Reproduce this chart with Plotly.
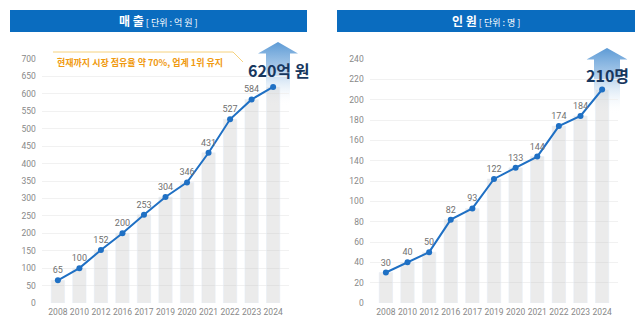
import base64
import plotly.graph_objects as go
from plotly.subplots import make_subplots

# Data
years = ["2008", "2010", "2012", "2016", "2017", "2019", "2020", "2021", "2022", "2023", "2024"]
sales = [65, 100, 152, 200, 253, 304, 346, 431, 527, 584, 620]          # 억 원
staff = [30, 40, 50, 82, 93, 122, 133, 144, 174, 184, 210]              # 명

W, H = 640, 324
BLUE = "#0a6cbf"
LINE = "#1f70c4"
BAR = "rgba(190,190,190,0.3)"   # reads as #ececec on white, lets the arrow show through
KFONT = "Noto Sans CJK KR"


def px(x):
    return x / W


def py(y):
    return 1 - y / H


fig = make_subplots(rows=1, cols=2)

for col, vals in ((1, sales), (2, staff)):
    fig.add_trace(go.Bar(x=years, y=vals, marker_color=BAR, width=0.62,
                         hoverinfo="skip", showlegend=False), row=1, col=col)
    labels = [str(v) for v in vals[:-1]] + [""]
    fig.add_trace(go.Scatter(x=years, y=vals, mode="lines+markers+text",
                             text=labels, textposition="top center",
                             textfont=dict(size=9, color="#707070", family="Roboto"),
                             line=dict(color=LINE, width=2),
                             marker=dict(color=LINE, size=6),
                             cliponaxis=False, showlegend=False), row=1, col=col)

ydom = [py(303), py(59)]
fig.update_layout(
    width=W, height=H, margin=dict(l=0, r=0, t=0, b=0),
    plot_bgcolor="rgba(0,0,0,0)", paper_bgcolor="white", bargap=0.38,
    xaxis=dict(domain=[px(41.75), px(289.25)]),
    xaxis2=dict(domain=[px(369.7), px(618.3)]),
    yaxis=dict(domain=ydom, range=[0, 700], dtick=50),
    yaxis2=dict(domain=ydom, range=[0, 240], dtick=20),
)
fig.update_xaxes(type="category", showgrid=False, zeroline=False, showline=False,
                 automargin=False, ticks="", ticklabelstandoff=2,
                 tickfont=dict(size=8.5, color="#888888", family="Roboto"))
fig.update_yaxes(showgrid=True, gridcolor="#f1f1f1", gridwidth=1, zeroline=False,
                 showline=False, automargin=False, ticks="", ticklabelstandoff=5,
                 tickfont=dict(size=8.5, color="#888888", family="Roboto"))

shapes = []
annotations = []
images = []

# Header bars
for x0, x1, main, unit in ((10, 307, "매 출", "[ 단위 : 억 원 ]"),
                           (337, 635, "인 원", "[ 단위 : 명 ]")):
    shapes.append(dict(type="rect", xref="paper", yref="paper",
                       x0=px(x0), x1=px(x1), y0=py(32), y1=py(10),
                       fillcolor=BLUE, line=dict(width=0), layer="below"))
    annotations.append(dict(xref="paper", yref="paper", x=px((x0 + x1) / 2), y=py(21),
                            text=f"<b>{main}</b><span style='font-size:9px'> {unit}</span>",
                            showarrow=False, xanchor="center", yanchor="middle",
                            font=dict(size=12, color="white", family=KFONT)))


def growth_arrow(cx, top, head_bottom, head_half, shaft_half, fade_bottom):
    """Upward arrow with a vertical blue-to-white gradient, placed as an SVG image."""
    w = 2 * head_half
    h = fade_bottom - top
    hb = head_bottom - top
    s0, s1 = head_half - shaft_half, head_half + shaft_half
    svg = (
        f'<svg xmlns="http://www.w3.org/2000/svg" width="{w}" height="{h}" viewBox="0 0 {w} {h}">'
        '<defs><linearGradient id="g" x1="0" y1="0" x2="0" y2="1">'
        '<stop offset="0" stop-color="#5495d3" stop-opacity="0.95"/>'
        '<stop offset="0.35" stop-color="#7fb0df" stop-opacity="0.75"/>'
        '<stop offset="1" stop-color="#ffffff" stop-opacity="0"/>'
        '</linearGradient></defs>'
        f'<path d="M0,{hb} L{head_half},0 L{w},{hb} L{s1},{hb} L{s1},{h} L{s0},{h} L{s0},{hb} Z" fill="url(#g)"/>'
        '</svg>'
    )
    src = "data:image/svg+xml;base64," + base64.b64encode(svg.encode()).decode()
    images.append(dict(source=src, xref="paper", yref="paper",
                       x=px(cx - head_half), y=py(top), sizex=w / W, sizey=h / H,
                       xanchor="left", yanchor="top", sizing="stretch", layer="below"))


growth_arrow(278, 42, 53.5, 20, 12, 106)
growth_arrow(607, 48, 59.5, 20.5, 13, 114)

# Callout line and note
shapes.append(dict(type="line", xref="paper", yref="paper",
                   x0=px(53), y0=py(52), x1=px(233), y1=py(52),
                   line=dict(color="#f6d27e", width=1)))
shapes.append(dict(type="line", xref="paper", yref="paper",
                   x0=px(233), y0=py(52), x1=px(243), y1=py(62),
                   line=dict(color="#f6d27e", width=1)))
annotations.append(dict(xref="paper", yref="paper", x=px(55), y=py(63),
                        text="<b>현재까지 시장 점유율 약 70%, 업계 1위 유지</b>",
                        showarrow=False, xanchor="left", yanchor="middle",
                        font=dict(size=9, color="#f09a10", family=KFONT)))

# Headline values
annotations.append(dict(xref="paper", yref="paper", x=px(278.5), y=py(70),
                        text=f"<b>{sales[-1]}억 원</b>", showarrow=False,
                        xanchor="center", yanchor="middle",
                        font=dict(size=16, color="#17375e", family=KFONT)))
annotations.append(dict(xref="paper", yref="paper", x=px(607), y=py(75),
                        text=f"<b>{staff[-1]}명</b>", showarrow=False,
                        xanchor="center", yanchor="middle",
                        font=dict(size=16, color="#17375e", family=KFONT)))

fig.update_layout(shapes=shapes, annotations=annotations, images=images)
fig.write_html("out.html")
